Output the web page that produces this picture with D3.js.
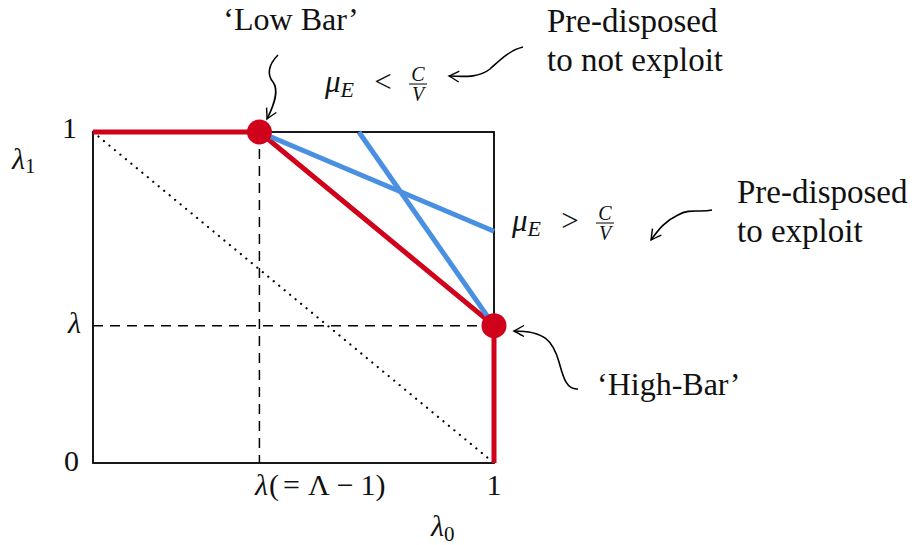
<!DOCTYPE html>
<html>
<head>
<meta charset="utf-8">
<script src="https://cdn.jsdelivr.net/npm/d3@7"></script>
</head>
<body style="margin:0">
<svg id="chart" width="912" height="545" style="font-family: 'Liberation Serif', serif"></svg>
<script>
// the chart values
const lambda = 0.415
const redBoundary = [[0, 1], [lambda, 1], [1, lambda], [1, 0]]
const blueLines = [
    [[lambda, 1], [1, 0.70]],
    [[0.663, 1], [1, lambda]]
]
const barPoints = [[lambda, 1], [1, lambda]]
const diagonal = [[0, 1], [1, 0]]

const red = "#d0021b"
const blue = "#4a90e2"

var svg = d3.select("#chart")

let x = d3.scaleLinear().domain([0, 1]).range([93, 494])
let y = d3.scaleLinear().domain([0, 1]).range([463, 132])

let line = d3.line().x(d => x(d[0])).y(d => y(d[1]))

// arrow head like tikz "to"
svg.append("defs").append("marker")
    .attr("id", "tip")
    .attr("markerUnits", "userSpaceOnUse")
    .attr("orient", "auto")
    .attr("refX", 0).attr("refY", 0)
    .attr("markerWidth", 20).attr("markerHeight", 20)
    .style("overflow", "visible")
    .append("path")
    .attr("d", "M-10,-5.5 Q-3,-1.5 0,0 Q-3,1.5 -10,5.5")
    .attr("fill", "none")
    .attr("stroke", "#000")
    .attr("stroke-width", 1.4)

// box
svg.append("rect")
    .attr("x", x(0)).attr("y", y(1))
    .attr("width", x(1) - x(0)).attr("height", y(0) - y(1))
    .attr("fill", "none")
    .attr("stroke", "#000")
    .attr("stroke-width", 1.8)

// dashed guides at lambda
svg.append("line")
    .attr("x1", x(lambda)).attr("y1", y(1))
    .attr("x2", x(lambda)).attr("y2", y(0))
    .attr("stroke", "#000").attr("stroke-width", 1.5)
    .attr("stroke-dasharray", "10,7")
svg.append("line")
    .attr("x1", x(0)).attr("y1", y(lambda))
    .attr("x2", x(1)).attr("y2", y(lambda))
    .attr("stroke", "#000").attr("stroke-width", 1.5)
    .attr("stroke-dasharray", "10,7")

// dotted diagonal
svg.append("path")
    .attr("d", line(diagonal))
    .attr("fill", "none")
    .attr("stroke", "#000").attr("stroke-width", 2.2)
    .attr("stroke-linecap", "round")
    .attr("stroke-dasharray", "0.1,7")

// red boundary
svg.append("path")
    .attr("d", line(redBoundary))
    .attr("fill", "none")
    .attr("stroke", red)
    .attr("stroke-width", 5)
    .attr("stroke-linejoin", "miter")

// blue lines
svg.selectAll("path.blue")
    .data(blueLines)
    .join("path")
    .attr("class", "blue")
    .attr("d", line)
    .attr("fill", "none")
    .attr("stroke", blue)
    .attr("stroke-width", 5)

// bar points
svg.selectAll("circle")
    .data(barPoints)
    .join("circle")
    .attr("cx", d => x(d[0]))
    .attr("cy", d => y(d[1]))
    .attr("r", 12.5)
    .attr("fill", red)

// text helper
function addText(tx, ty, anchor, size, italic) {
    let t = svg.append("text")
        .attr("x", tx).attr("y", ty)
        .style("font-family", '"Liberation Serif"')
        .style("font-size", size + "px")
        .style("text-anchor", anchor)
        .style("fill", "#111")
    if (italic) t.style("font-style", "italic")
    return t
}

// axis labels
addText(77, y(1) + 6, "end", 30).text("1")
addText(79, y(0) + 8, "end", 30).text("0")
addText(81, y(lambda) + 7, "end", 30, true).text("λ")

let l1 = addText(12, 169, "start", 30, true)
l1.append("tspan").text("λ")
l1.append("tspan").style("font-style", "normal").style("font-size", "21px").attr("dy", 4).text("1")

addText(x(1), 495, "middle", 30).text("1")

// λ(= Λ − 1) with math spacing
let lx = addText(255, 495, "start", 30)
lx.append("tspan").style("font-style", "italic").text("λ")
lx.append("tspan").attr("dx", 1).text("(")
lx.append("tspan").attr("dx", 4).text("=")
lx.append("tspan").attr("dx", 8).text("Λ")
lx.append("tspan").attr("dx", 7).text("−")
lx.append("tspan").attr("dx", 7).text("1")
lx.append("tspan").text(")")

let l0 = addText(431, 536, "start", 30, true)
l0.append("tspan").text("λ")
l0.append("tspan").style("font-style", "normal").style("font-size", "21px").attr("dy", 5).text("0")

// annotations
addText(291, 30, "middle", 32).text("‘Low Bar’")
addText(547, 32, "start", 33).text("Pre-disposed")
addText(547, 71, "start", 33).text("to not exploit")
addText(737, 203, "start", 33).text("Pre-disposed")
addText(737, 242, "start", 33).text("to exploit")
addText(597, 395, "start", 32).text("‘High-Bar’")

// mu_E vs C/V
function muLabel(mx, baseY, rel) {
    let t = addText(mx, baseY, "start", 31, true)
    t.append("tspan").text("μ")
    t.append("tspan").style("font-size", "22px").attr("dy", 5).text("E")
    addText(mx + 58, baseY, "middle", 31).text(rel)
    let fx = mx + 93
    let barY = baseY - 8
    addText(fx, barY - 3, "middle", 20, true).text("C")
    addText(fx, barY + 17, "middle", 20, true).text("V")
    svg.append("line")
        .attr("x1", fx - 9).attr("x2", fx + 9)
        .attr("y1", barY).attr("y2", barY)
        .attr("stroke", "#000").attr("stroke-width", 1)
}
muLabel(325, 92, "<")
muLabel(512, 231, ">")

// curly arrows
let arrows = [
    "M278,55 C268,65 267,75 273,82 C279,90 275,103 267,119",
    "M523,47 C510,50 500,60 490,69 C480,77 468,77 449,76",
    "M712,210 C700,213 690,208 678,215 C665,221 659,229 651,240",
    "M578,389 C566,390 563,376 559,362 C553,341 545,331 514,331"
]
svg.selectAll("path.arrow")
    .data(arrows)
    .join("path")
    .attr("class", "arrow")
    .attr("d", d => d)
    .attr("fill", "none")
    .attr("stroke", "#000")
    .attr("stroke-width", 1.6)
    .attr("marker-end", "url(#tip)")
</script>
</body>
</html>
